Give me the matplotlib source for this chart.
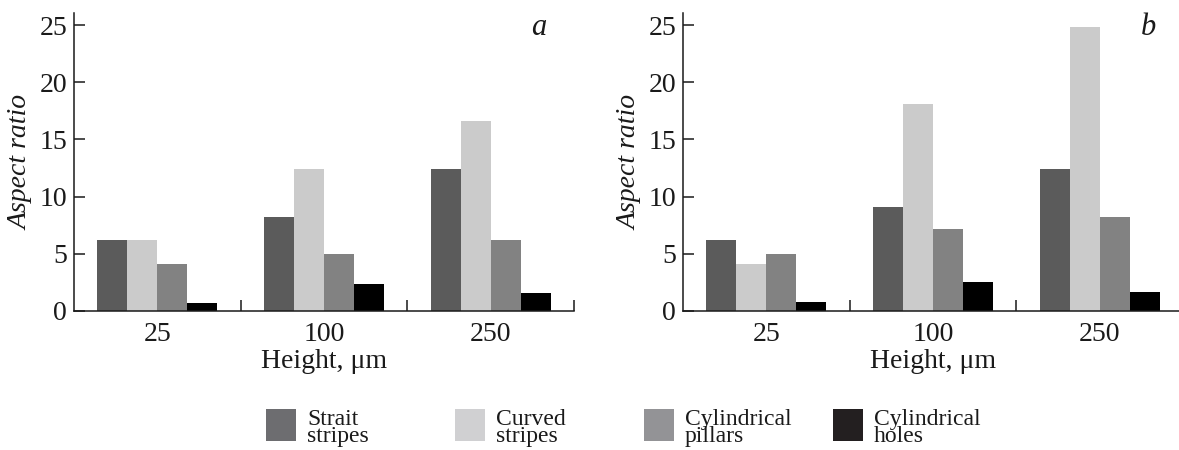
import numpy as np
import matplotlib
matplotlib.use("Agg")
import matplotlib.pyplot as plt
from matplotlib.patches import Rectangle

plt.rcParams["font.family"] = ["Liberation Serif", "DejaVu Serif"]

# Data
heights = ["25", "100", "250"]
series = ["Strait\nstripes", "Curved\nstripes", "Cylindrical\npillars", "Cylindrical\nholes"]

strait_a = [6.2, 8.25, 12.4]
curved_a = [6.2, 12.4, 16.6]
pillars_a = [4.1, 5.0, 6.2]
holes_a = [0.67, 2.4, 1.6]

strait_b = [6.2, 9.1, 12.4]
curved_b = [4.1, 18.1, 24.8]
pillars_b = [5.0, 7.2, 8.2]
holes_b = [0.75, 2.5, 1.65]

bar_colors = ["#5b5b5b", "#cbcbcb", "#828282", "#000000"]
legend_colors = ["#6d6d70", "#d0d0d2", "#939396", "#231f20"]

panels = {
    "a": [strait_a, curved_a, pillars_a, holes_a],
    "b": [strait_b, curved_b, pillars_b, holes_b],
}

W, H = 1179, 450
fig = plt.figure(figsize=(W / 100, H / 100), dpi=100)

ax_left = {"a": 74, "b": 683}
ax_w, ax_top, ax_bot = 500, 13, 311

bar_w = 0.18
x = np.arange(len(heights))

for name, data in panels.items():
    ax = fig.add_axes([ax_left[name] / W, 1 - ax_bot / H, ax_w / W, (ax_bot - ax_top) / H])
    for i, vals in enumerate(data):
        ax.bar(x + (i - 1.5) * bar_w, vals, width=bar_w, color=bar_colors[i], linewidth=0)

    ax.set_xlim(-0.5, 2.5)
    ax.set_ylim(0, 26.05)
    ax.spines["top"].set_visible(False)
    ax.spines["right"].set_visible(False)
    for s in ["left", "bottom"]:
        ax.spines[s].set_linewidth(1.1)
        ax.spines[s].set_color("#1a1a1a")

    ax.set_xticks(x)
    ax.set_xticklabels(heights)
    ax.set_xticks([0.5, 1.5, 2.5], minor=True)
    ax.tick_params(axis="x", which="major", length=0, pad=8, labelsize=20, colors="#1a1a1a")
    ax.tick_params(axis="x", which="minor", direction="in", length=8, width=1.1, colors="#1a1a1a")

    ax.set_yticks([0, 5, 10, 15, 20, 25])
    ax.tick_params(axis="y", direction="in", length=8, width=1.1, pad=5, labelsize=20, colors="#1a1a1a")

    ax.set_xlabel("Height, μm", fontsize=20, labelpad=1, color="#1a1a1a")
    ax.set_ylabel("Aspect ratio", fontsize=20, style="italic", labelpad=4, color="#1a1a1a")
    ax.text(0.93, 0.95, name, transform=ax.transAxes, fontsize=22, style="italic",
            ha="center", va="center", color="#1a1a1a")

# Legend row at the bottom
for i, lab in enumerate(series):
    px = 266 + i * 189
    fig.patches.append(Rectangle((px / W, 1 - 441 / H), 30 / W, 32 / H,
                                 transform=fig.transFigure, facecolor=legend_colors[i],
                                 edgecolor="none"))
    fig.text((px + 41) / W, 1 - 428 / H, lab, fontsize=17, linespacing=0.78,
             ha="left", va="center", color="#1a1a1a")

fig.savefig("out.png", dpi=100)
